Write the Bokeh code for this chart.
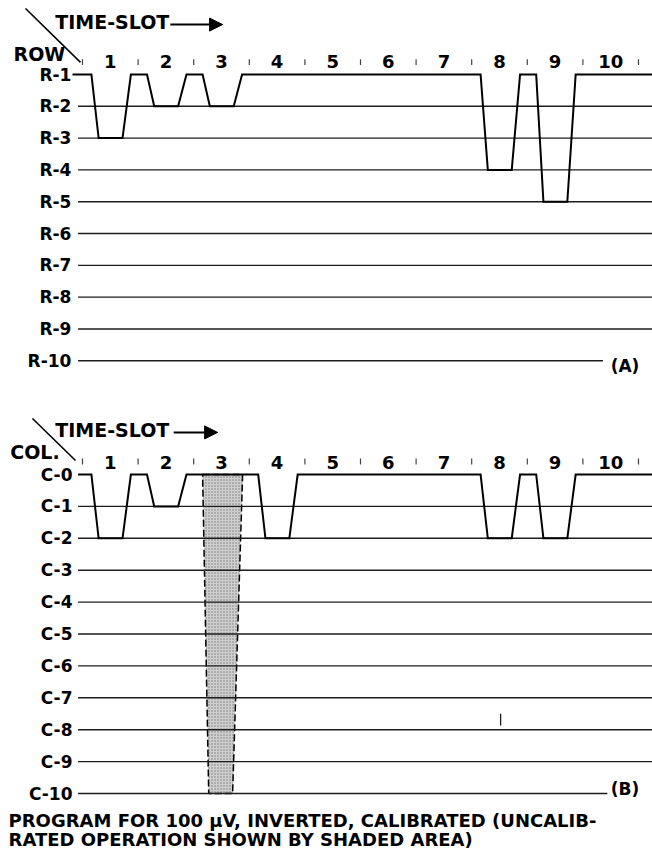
from bokeh.plotting import figure
from bokeh.models import Range1d, Arrow, NormalHead
from bokeh.layouts import column
from bokeh.core.properties import value
from bokeh.embed import file_html
from bokeh.resources import INLINE

# ---------------- data ----------------
slot_labels = ["1", "2", "3", "4", "5", "6", "7", "8", "9", "10"]
slot_bounds = [0, 1, 2, 3, 4, 5, 6, 7, 8, 9, 10]

row_labels = ["R-1", "R-2", "R-3", "R-4", "R-5", "R-6", "R-7", "R-8", "R-9", "R-10"]
row_levels = [1, 2, 3, 4, 5, 6, 7, 8, 9, 10]
row_program = [3, 2, 2, 1, 1, 1, 1, 4, 5, 1]   # row selected in each time slot
row_base = 1

col_labels = ["C-0", "C-1", "C-2", "C-3", "C-4", "C-5", "C-6", "C-7", "C-8", "C-9", "C-10"]
col_levels = [0, 1, 2, 3, 4, 5, 6, 7, 8, 9, 10]
col_program = [2, 1, 0, 2, 0, 0, 0, 2, 2, 0]   # column selected in each time slot
col_base = 0

shaded_slot = 3            # uncalibrated operation (shaded area)
stray_mark = (7.52, 7.5, 7.87)

caption = ["PROGRAM FOR 100 \u03bcV, INVERTED, CALIBRATED (UNCALIB-",
           "RATED OPERATION SHOWN BY SHADED AREA)"]

# ---------------- style ----------------
FONT = value("DejaVu Sans")
INK = "#1c1c1c"
F0, F1, R0, R1 = 0.16, 0.29, 0.72, 0.87   # transition shape inside a slot
W = 652
XR = (-1.475, 10.252)


def wave(levels, base, x0, x1):
    xs, ys = [x0], [base]
    for k, lv in enumerate(levels):
        if lv != base:
            xs += [k + F0, k + F1, k + R0, k + R1]
            ys += [base, lv, lv, base]
    xs.append(x1)
    ys.append(base)
    return xs, ys


def make_fig(height, yr):
    p = figure(width=W, height=height, x_range=Range1d(*XR),
               y_range=yr, output_backend="svg", toolbar_location=None,
               x_axis_location=None, y_axis_location=None,
               min_border=0, min_border_left=0, min_border_right=0,
               min_border_top=0, min_border_bottom=0)
    p.grid.visible = False
    p.outline_line_color = None
    p.background_fill_color = "white"
    p.border_fill_color = "white"
    return p


def panel(p, labels, levels, program, base, label_x, tick_y, num_y, tag, tag_y,
          last_end, line_start, wave_start):
    # horizontal level lines (baseline is the waveform itself)
    xs0, xs1, ys = [], [], []
    for lv in levels:
        if lv == base:
            continue
        xs0.append(line_start)
        xs1.append(last_end if lv == levels[-1] else 10.25)
        ys.append(lv)
    p.segment(x0=xs0, y0=ys, x1=xs1, y1=ys, line_color=INK, line_width=1.4)
    # waveform
    wx, wy = wave(program, base, wave_start, 10.25)
    p.line(wx, wy, line_color="black", line_width=2.0, line_join="miter")
    # level labels
    p.text(x=[label_x] * len(labels), y=levels, text=labels, text_font=FONT,
           text_font_style="bold", text_font_size="17px", text_align="right",
           text_baseline="middle", text_color="black")
    # slot tick marks and numbers
    p.segment(x0=slot_bounds, y0=[tick_y[0]] * 11, x1=slot_bounds,
              y1=[tick_y[1]] * 11, line_color="#444444", line_width=1.2)
    p.text(x=[b + 0.5 for b in slot_bounds[:-1]], y=[num_y] * 10, text=slot_labels,
           text_font=FONT, text_font_style="bold", text_font_size="18px",
           text_align="center", text_baseline="middle", text_color="black")
    p.text(x=[9.5], y=[tag_y], text=[tag], text_font=FONT, text_font_style="bold",
           text_font_size="17px", text_align="left", text_baseline="middle",
           text_color="black")


# ---------------- panel A ----------------
pa = make_fig(400, Range1d(11.25, -1.327))
panel(pa, row_labels, row_levels, row_program, row_base, -0.2, (0.52, 0.70), 0.6,
      "(A)", 10.15, 9.36, -0.08, -0.18)
pa.line([-1.025, -0.036], [-1.075, 0.62], line_color="black", line_width=1.6)
pa.text(x=[-0.49], y=[-0.66], text=["TIME-SLOT"], text_font=FONT, text_font_style="bold",
        text_font_size="19px", text_align="left", text_baseline="middle")
pa.text(x=[-1.24], y=[0.36], text=["ROW"], text_font=FONT, text_font_style="bold",
        text_font_size="19px", text_align="left", text_baseline="middle")
pa.add_layout(Arrow(end=NormalHead(size=13, fill_color="black", line_color="black"),
                    x_start=1.58, y_start=-0.57, x_end=2.52, y_end=-0.57,
                    line_width=2, line_color="black"))

# ---------------- panel B ----------------
pb = make_fig(460, Range1d(12.10, -2.32))
k = shaded_slot - 1
pb.patch([k + 0.16, k + 0.88, k + 0.70, k + 0.27],
         [col_levels[0], col_levels[0], col_levels[-1], col_levels[-1]],
         fill_color="#cfcfcf", hatch_pattern="dot", hatch_color="#7a7a7a",
         hatch_scale=3, hatch_weight=1, line_color="black", line_width=1.5,
         line_dash="7 3")
panel(pb, col_labels, col_levels, col_program, col_base, -0.18, (-0.5, -0.31), -0.38,
      "(B)", 9.85, 9.44, -0.08, -0.08)
pb.line([-0.90, -0.126], [-1.755, -0.44], line_color="black", line_width=1.6)
pb.text(x=[-0.49], y=[-1.38], text=["TIME-SLOT"], text_font=FONT, text_font_style="bold",
        text_font_size="19px", text_align="left", text_baseline="middle")
pb.text(x=[-1.30], y=[-0.70], text=["COL."], text_font=FONT, text_font_style="bold",
        text_font_size="19px", text_align="left", text_baseline="middle")
pb.add_layout(Arrow(end=NormalHead(size=13, fill_color="black", line_color="black"),
                    x_start=1.64, y_start=-1.32, x_end=2.43, y_end=-1.32,
                    line_width=2, line_color="black"))
pb.segment(x0=[stray_mark[0]], y0=[stray_mark[1]], x1=[stray_mark[0]], y1=[stray_mark[2]],
           line_color=INK, line_width=1.3)
pb.text(x=[-1.33, -1.33], y=[10.85, 11.45], text=caption, text_font=FONT,
        text_font_style="bold", text_font_size="18px", text_align="left",
        text_baseline="middle", text_color="black")

layout = column(pa, pb, spacing=0)
open("out.html", "w").write(file_html(layout, INLINE))
